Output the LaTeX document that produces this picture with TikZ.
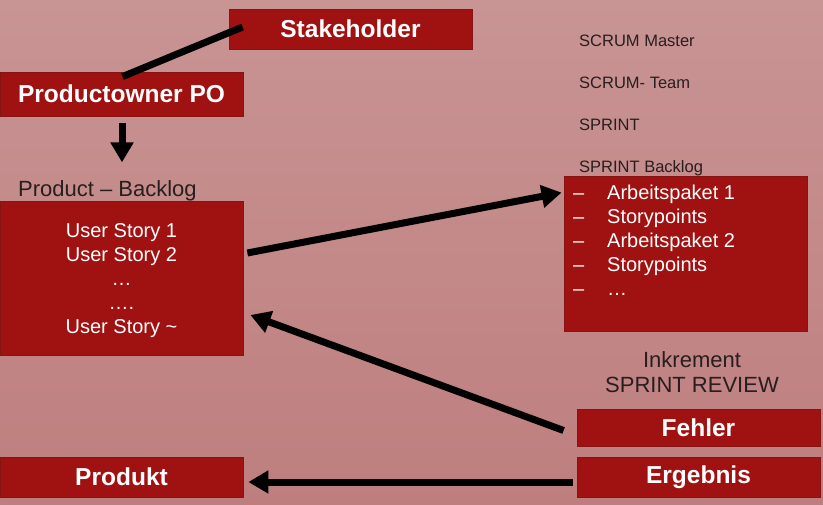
\documentclass[tikz,border=0pt]{standalone}
\usepackage{fontspec}
\setmainfont{Liberation Sans}
\usetikzlibrary{arrows.meta,calc}
\definecolor{bgtop}{RGB}{201,148,148}
\definecolor{bgbot}{RGB}{190,126,126}
\definecolor{boxred}{RGB}{160,17,17}
\definecolor{boxedge}{RGB}{135,20,20}
\definecolor{darktext}{RGB}{40,30,30}
\begin{document}
\begin{tikzpicture}[x=1pt,y=-1pt,
  redbox/.style={fill=boxred,draw=boxedge,line width=0.8pt,inner sep=0pt,text=white},
  titlebox/.style={redbox,minimum width=243pt,font=\fontsize{24.5}{28}\selectfont\bfseries},
  conn/.style={line width=7pt,black},
  arr/.style={conn,-{Triangle[length=20pt,width=22pt]}},
  darklbl/.style={inner sep=0pt,text=darktext,anchor=base west},
  whitelbl/.style={inner sep=0pt,text=white,font=\fontsize{20}{24}\selectfont}]
\shade[top color=bgtop,bottom color=bgbot] (0,0) rectangle (823,505);
\useasboundingbox (0,0) rectangle (823,505);

% title boxes
\node[titlebox,minimum height=40pt] (sh) at (350.5,29) {Stakeholder};
\node[titlebox,minimum height=44pt] (po) at (121.5,94) {Productowner PO};
\node[titlebox,minimum height=37pt] (fe) at (698.5,427.5) {Fehler};
\node[titlebox,minimum height=40pt] (er) at (698.5,477) {Ergebnis};
\node[titlebox,minimum height=40pt] (pr) at (121.5,477) {Produkt};

% backlog boxes
\node[redbox,minimum width=243pt,minimum height=154pt] (pb) at (121.5,278) {};
\node[redbox,minimum width=243pt,minimum height=155pt] (sb) at (685.5,253.5) {};

% labels
\node[darklbl,font=\fontsize{22}{26}\selectfont] (pbl) at (18,197) {Product – Backlog};
\foreach \t [count=\i from 0] in {SCRUM Master,SCRUM- Team,SPRINT,SPRINT Backlog}
  \node[darklbl,font=\fontsize{16.5}{20}\selectfont] (rl\i) at (579,47+42*\i) {\t};
\node[darklbl,anchor=base,font=\fontsize{22}{26}\selectfont] (ink) at (692,367) {Inkrement};
\node[darklbl,anchor=base,font=\fontsize{22}{26}\selectfont] (rev) at (692,393) {SPRINT REVIEW};

% user stories
\foreach \t [count=\i from 0] in {User Story 1,User Story 2,…,….,User Story \textasciitilde}
  \node[whitelbl,anchor=base] (us\i) at (121.5,238+24*\i) {\t};

% sprint backlog items
\foreach \t [count=\i from 0] in {Arbeitspaket 1,Storypoints,Arbeitspaket 2,Storypoints,…} {
  \node[whitelbl,anchor=base west] (sbd\i) at (573,200+24*\i) {–};
  \node[whitelbl,anchor=base west] (sbt\i) at (607,200+24*\i) {\t};
}

% connectors
\draw[conn] ($(sh.west)+(14,-2)$) -- ($(po.north)+(1,5)$);
\draw[arr] ($(po.south)+(0.5,7)$) -- ($(po.south)+(0.5,46)$);
\draw[arr] ($(pb.east)+(4,-25)$) -- ($(sb.north west)+(-2,17)$);
\draw[arr] ($(fe.west)+(-13,3)$) -- ($(pb.east)+(7,37)$);
\draw[arr] ($(er.west)+(-4,5)$) -- ($(pr.east)+(5,5)$);
\end{tikzpicture}
\end{document}
